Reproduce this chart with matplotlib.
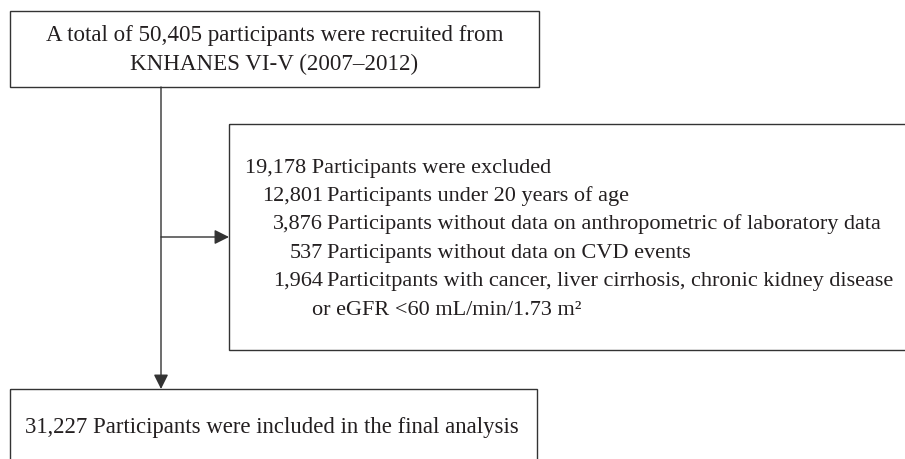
import matplotlib.pyplot as plt
from matplotlib.patches import Rectangle

# Flow chart content
recruited_total = "50,405"
survey_label = "KNHANES VI-V (2007\u20132012)"
excluded_total = "19,178"
excl_counts = ["12,801", "3,876", "537", "1,964"]
excl_reasons = [
    "Participants under 20 years of age",
    "Participants without data on anthropometric of laboratory data",
    "Participants without data on CVD events",
    "Particitpants with cancer, liver cirrhosis, chronic kidney disease",
]
excl_extra = "or eGFR <60 mL/min/1.73 m\u00b2"
included_total = "31,227"

plt.rcParams["font.family"] = ["Liberation Serif", "DejaVu Serif"]
fs = 16.0
edge = "#333333"
txt = "#231f20"

fig = plt.figure(figsize=(9.05, 4.59), dpi=100)
ax = fig.add_axes([0, 0, 1, 1])
ax.set_xlim(0, 905)
ax.set_ylim(459, 0)
ax.axis("off")

# Boxes (pixel coords)
ax.add_patch(Rectangle((10, 11), 529, 76, fill=False, ec=edge, lw=1.0))
ax.add_patch(Rectangle((229, 124), 700, 226, fill=False, ec=edge, lw=1.0))
ax.add_patch(Rectangle((10, 389), 527, 100, fill=False, ec=edge, lw=1.0))

# Top box text
ax.text(274.5, 36, f"A total of {recruited_total} participants were recruited from",
        ha="center", va="center", fontsize=16.6, color=txt)
ax.text(274.5, 64, survey_label, ha="center", va="center", fontsize=16.6, color=txt)

# Arrows
arrow = dict(arrowstyle="-|>", color=edge, lw=1.0, mutation_scale=22,
             shrinkA=0, shrinkB=0)
ax.annotate("", xy=(161, 389), xytext=(161, 87), arrowprops=arrow)
ax.annotate("", xy=(229, 237), xytext=(161, 237), arrowprops=arrow)

# Exclusion box text (baseline aligned)
b = 6
ax.text(245, 167 + b, f"{excluded_total} Participants were excluded",
        ha="left", va="baseline", fontsize=fs, color=txt)
ys = [195, 223, 252, 280]
for y, n, reason in zip(ys, excl_counts, excl_reasons):
    ax.text(323, y + b, n, ha="right", va="baseline", fontsize=fs, color=txt)
    ax.text(327, y + b, reason, ha="left", va="baseline", fontsize=fs, color=txt)
ax.text(312, 309 + b, excl_extra, ha="left", va="baseline", fontsize=fs, color=txt)

# Final box text
ax.text(25, 428, f"{included_total} Participants were included in the final analysis",
        ha="left", va="center", fontsize=16.4, color=txt)

fig.savefig("out.png", dpi=100)
